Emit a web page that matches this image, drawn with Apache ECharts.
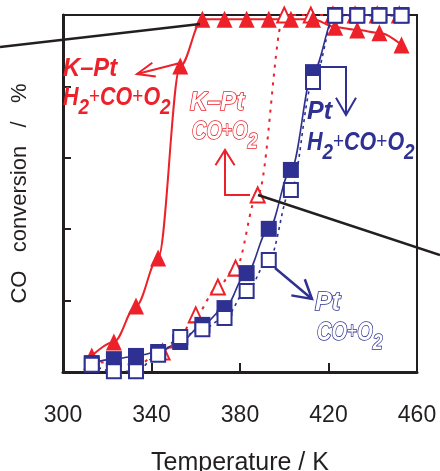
<!DOCTYPE html>
<html><head><meta charset="utf-8">
<script src="https://cdn.jsdelivr.net/npm/echarts@6/dist/echarts.min.js"></script>
<style>html,body{margin:0;padding:0;background:#fff}#c{width:440px;height:471px}</style>
</head><body><div id="c"></div>
<script>
// ---- data ----
const temps = [313,323,333,343,353,363,373,383,393,403,413,423,433,443,453];
const kptH2 = [4.5,8.4,18.5,31.9,85.7,98.8,98.8,98.8,98.8,98.8,98.8,96.6,95.8,95.0,91.6];
const kptCoTemps = [313,323,333,345,352,360,370,378,388,400,412,422,432,442,452];
const kptCo = [3.0,2.5,2.0,5.6,9.0,16.0,23.8,29.1,49.6,100,100,100,100,100,100];
const ptH2 = [2.5,3.6,4.5,5.6,8.4,13.2,17.9,27.7,40.1,56.6,84.0,100,100,100,100];
const ptCo = [2.0,0.2,0.2,4.8,9.8,12.0,15.1,22.7,31.4,51.0,81.2,99.8,99.8,99.8,99.8];
const xTicks = [300,340,380,420,460];
const yTicks = [0,20,40,60,80,100];
const xTitle = 'Temperature / K';
const yTitle = 'CO   conversion   /   %';

const RED = '#ec2129', NAVY = '#2e3192', INK = '#231f20';
const pairs = (xs, ys) => xs.map((x, i) => [x, ys[i]]);

const chart = echarts.init(document.getElementById('c'), null, {renderer: 'canvas'});

function lineSeries(name, data, sym, size, filled, color, lw, ltype) {
  return {
    type: 'line', name, data, smooth: 0.35, smoothMonotone: 'x',
    symbol: sym, symbolSize: size, showAllSymbol: true, clip: false,
    itemStyle: filled ? {color: color} : {color: '#fff', borderColor: color, borderWidth: 2},
    lineStyle: {color: color, width: lw, type: ltype},
    emphasis: {disabled: true}
  };
}

chart.setOption({
  animation: false,
  grid: {left: 63, right: 23, top: 15, bottom: 99, show: true, borderColor: INK, borderWidth: 2,
         containLabel: false, outerBoundsMode: 'none'},
  xAxis: {
    type: 'value', min: xTicks[0], max: xTicks[xTicks.length-1], interval: xTicks[1]-xTicks[0],
    axisLine: {lineStyle: {color: INK, width: 3}},
    axisTick: {inside: true, length: 9, lineStyle: {color: INK, width: 2}},
    axisLabel: {fontSize: 23, fontFamily: 'Liberation Sans', color: INK, margin: 32},
    splitLine: {show: false},
    name: xTitle, nameLocation: 'middle', nameGap: 79,
    nameTextStyle: {fontSize: 25, fontFamily: 'Liberation Sans', color: INK}
  },
  yAxis: {
    type: 'value', min: yTicks[0], max: yTicks[yTicks.length-1], interval: yTicks[1]-yTicks[0],
    axisLine: {show: true, lineStyle: {color: INK, width: 3}},
    axisTick: {show: true, inside: true, length: 8, lineStyle: {color: INK, width: 2}},
    axisLabel: {show: false},
    splitLine: {show: false},
    name: yTitle, nameLocation: 'middle', nameRotate: 90, nameGap: 32,
    nameTextStyle: {fontSize: 22, fontFamily: 'Liberation Sans', color: INK}
  },
  series: [
    lineSeries('K-Pt CO+O2', pairs(kptCoTemps, kptCo), 'triangle', [14, 15], false, RED, 2, [3, 6]),
    lineSeries('K-Pt H2+CO+O2', pairs(temps, kptH2), 'triangle', [16, 17], true, RED, 2, 'solid'),
    lineSeries('Pt H2+CO+O2', pairs(temps, ptH2), 'rect', 16, true, NAVY, 1.6, 'solid'),
    lineSeries('Pt CO+O2', pairs(temps, ptCo), 'rect', 14, false, NAVY, 1.6, [3, 4])
  ]
});

// ---- annotations ----
function arrow(pts, color, w, len, ang) {
  const n = pts.length, tip = pts[n-1], prev = pts[n-2];
  const dx = prev[0]-tip[0], dy = prev[1]-tip[1], d = Math.hypot(dx, dy);
  const ux = dx/d, uy = dy/d, a = ang*Math.PI/180;
  const rot = (t) => [tip[0] + len*(ux*Math.cos(t) - uy*Math.sin(t)), tip[1] + len*(ux*Math.sin(t) + uy*Math.cos(t))];
  return [
    {type: 'polyline', z: 100, shape: {points: pts}, style: {stroke: color, lineWidth: w, fill: 'none'}},
    {type: 'polyline', z: 100, shape: {points: [rot(a), tip, rot(-a)]}, style: {stroke: color, lineWidth: w, fill: 'none'}}
  ];
}
function chem(x, y, text, color, outline, sx) {
  const fill = outline ? '#fff' : color;
  const st = outline ? {stroke: color, lineWidth: 1.6} : {};
  const base = {fontFamily: 'Liberation Sans', fontWeight: 'bold', fontStyle: 'italic', fill: fill};
  return {
    type: 'text', x: x, y: y, scaleX: sx, z: 100,
    style: Object.assign({
      text: text, align: 'left', verticalAlign: 'top',
      rich: {
        m: Object.assign({}, base, st, {fontSize: 25, lineHeight: 24, verticalAlign: 'top'}),
        s: Object.assign({}, base, st, {fontSize: 22, lineHeight: 33, verticalAlign: 'bottom'}),
        p: Object.assign({}, base, st, {fontWeight: 'normal', fontStyle: 'normal', fontSize: 22, lineHeight: 24, verticalAlign: 'top'})
      }
    }, base, st)
  };
}
const H2CO = '{m|H}{s|2}{p|+}{m|CO}{p|+}{m|O}{s|2}';
const CO = '{m|CO}{p|+}{m|O}{s|2}';

const g = [];
// connector lines to outside insets
g.push({type: 'polyline', z: 100, shape: {points: [[0, 47], [200, 24]]}, style: {stroke: INK, lineWidth: 2.5, fill: 'none'}});
g.push({type: 'polyline', z: 100, shape: {points: [[258, 195], [440, 255]]}, style: {stroke: INK, lineWidth: 2.5, fill: 'none'}});
// arrows
g.push(...arrow([[180, 63], [137, 74]], RED, 2, 19, 22));
g.push(...arrow([[250, 195], [225, 195], [225, 150]], RED, 2, 18, 32));
g.push(...arrow([[320, 67], [346, 67], [346, 115]], NAVY, 2, 20, 30));
g.push(...arrow([[275, 268], [312, 299]], NAVY, 2.5, 21, 30));
// labels
g.push(chem(63, 57, '{m|K–Pt}', RED, false, 0.95));
g.push(chem(63, 86, H2CO, RED, false, 0.86));
g.push(chem(190, 90.5, '{m|K–Pt}', RED, true, 0.95));
g.push(chem(192, 120, CO, RED, true, 0.8));
g.push(chem(307, 99.5, '{m|Pt}', NAVY, false, 1));
g.push(chem(307, 130.5, H2CO, NAVY, false, 0.86));
g.push(chem(315, 291, '{m|Pt}', NAVY, true, 1));
g.push(chem(317, 321, CO, NAVY, true, 0.8));

chart.setOption({graphic: {elements: g}});
</script>
</body></html>
